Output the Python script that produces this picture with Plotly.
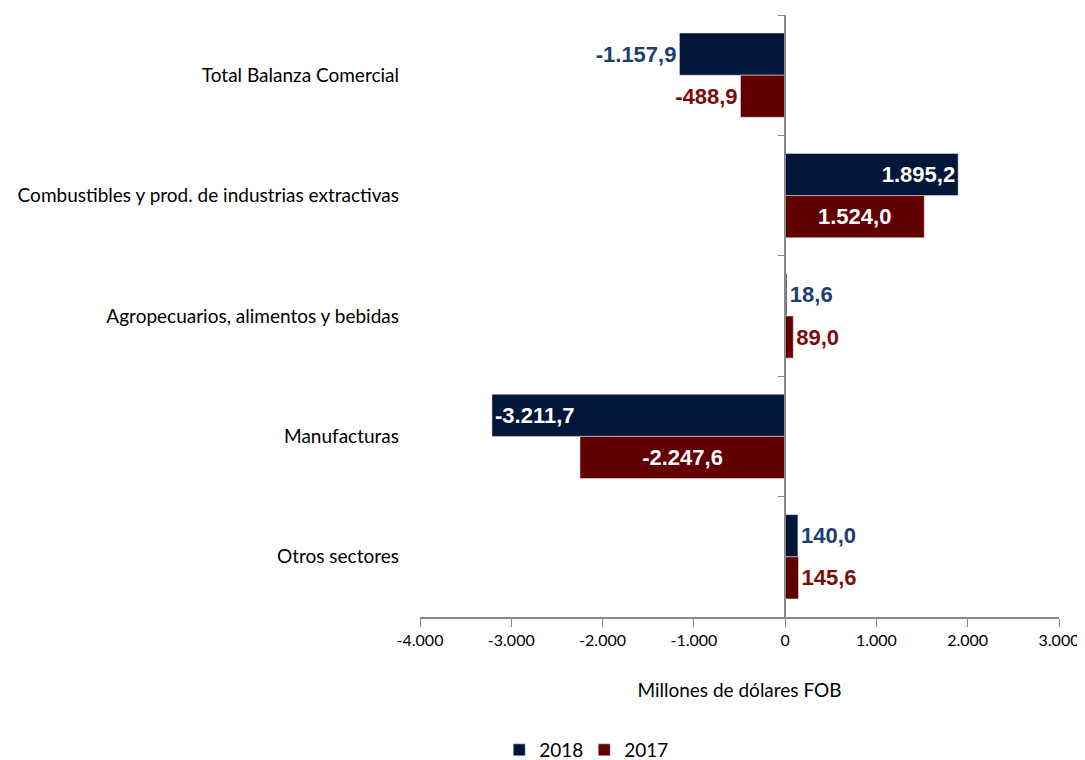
import plotly.graph_objects as go

categories = [
    "Total Balanza Comercial",
    "Combustibles y prod. de industrias extractivas",
    "Agropecuarios, alimentos y bebidas",
    "Manufacturas",
    "Otros sectores",
]
values_2018 = [-1157.9, 1895.2, 18.6, -3211.7, 140.0]
values_2017 = [-488.9, 1524.0, 89.0, -2247.6, 145.6]
pos_2018 = ["outside", "inside", "outside", "inside", "outside"]
pos_2017 = ["outside", "inside", "outside", "inside", "outside"]
tick_vals = [-4000, -3000, -2000, -1000, 0, 1000, 2000, 3000]
tick_text = ["-4.000", "-3.000", "-2.000", "-1.000", "0", "1.000", "2.000", "3.000"]


def fmt(v):
    s = f"{abs(v):,.1f}".replace(",", "X").replace(".", ",").replace("X", ".")
    return ("-" if v < 0 else "") + s


C18 = "#011639"
C17 = "#620000"
L18 = "#1B3F6E"
L17 = "#7E0A0A"

fig = go.Figure()
fig.add_trace(go.Bar(
    name="2018", y=categories, x=values_2018, orientation="h",
    marker=dict(color=C18),
    text=[fmt(v) for v in values_2018], textposition=pos_2018,
    insidetextanchor="end",
    textfont=dict(family="Liberation Sans", size=22,
                  color=[L18 if p == "outside" else "white" for p in pos_2018],
                  weight="bold"),
    cliponaxis=False, hoverinfo="skip",
))
fig.add_trace(go.Bar(
    name="2017", y=categories, x=values_2017, orientation="h",
    marker=dict(color=C17),
    text=[fmt(v) for v in values_2017], textposition=pos_2017,
    insidetextanchor="middle",
    textfont=dict(family="Liberation Sans", size=22,
                  color=[L17 if p == "outside" else "white" for p in pos_2017],
                  weight="bold"),
    cliponaxis=False, hoverinfo="skip",
))
fig.add_trace(go.Scatter(
    x=[0] * len(categories), y=categories, yaxis="y2", mode="markers",
    marker=dict(opacity=0), showlegend=False, hoverinfo="skip",
))

fig.update_layout(
    width=1077, height=752,
    paper_bgcolor="white", plot_bgcolor="white",
    margin=dict(l=412, r=26, t=7, b=143),
    barmode="group", bargap=0.3, bargroupgap=0,
    font=dict(family="Lato", color="#000000"),
    xaxis=dict(
        range=[-4000, 3000], tickvals=tick_vals, ticktext=tick_text,
        showgrid=False, zeroline=False, showline=True, linecolor="#888888",
        linewidth=1.5, ticks="outside", ticklen=8, tickcolor="#888888",
        tickfont=dict(size=16, family="Lato"), automargin=False,
        title=dict(text="Millones de dólares FOB", font=dict(size=19, family="Lato"),
                   standoff=36),
    ),
    yaxis=dict(
        type="category", categoryorder="array", categoryarray=categories,
        range=[4.5, -0.5], showgrid=False, zeroline=False, showline=False,
        ticks="", tickfont=dict(size=19, family="Lato"), ticklabelstandoff=20,
        automargin=False,
    ),
    yaxis2=dict(
        type="category", categoryorder="array", categoryarray=categories,
        range=[4.5, -0.5], overlaying="y", anchor="free", position=4 / 7,
        showgrid=False, zeroline=False, showline=True, linecolor="#888888",
        linewidth=1.5, ticks="outside", tickson="boundaries", ticklen=6,
        tickcolor="#888888", showticklabels=False, automargin=False,
    ),
    legend=dict(orientation="h", x=0.124, xanchor="left", yref="container",
                y=0.0133, yanchor="middle",
                font=dict(size=19, family="Lato"), itemwidth=30, traceorder="normal",
                entrywidth=40, entrywidthmode="pixels"),
    showlegend=True,
)

fig.write_html("out.html")
